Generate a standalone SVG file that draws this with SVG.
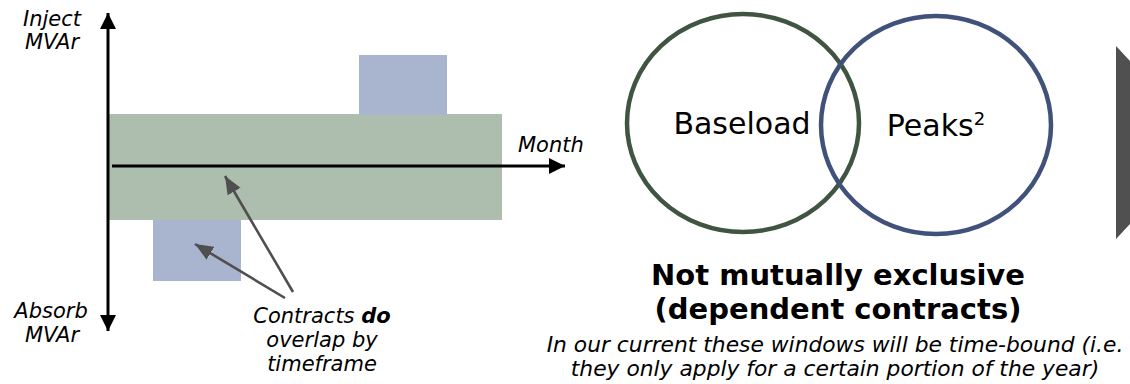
<svg xmlns="http://www.w3.org/2000/svg" width="1130" height="384" viewBox="0 0 1130 384">
<style>
.it{font-family:"DejaVu Sans","Liberation Sans",sans-serif;font-style:italic;font-size:21px;fill:#000}
.it2{font-family:"DejaVu Sans","Liberation Sans",sans-serif;font-style:italic;font-size:21.8px;fill:#000}
.lbl{font-family:"DejaVu Sans","Liberation Sans",sans-serif;font-size:30px;fill:#000}
.hd{font-family:"DejaVu Sans","Liberation Sans",sans-serif;font-weight:bold;font-size:29px;fill:#000}
.axis{stroke:#000;stroke-width:3;fill:none}
.ptr{stroke:#4f4f4f;stroke-width:2.6;fill:none}
</style>
<defs>
<marker id="ah" markerUnits="userSpaceOnUse" markerWidth="18" markerHeight="18" refX="16" refY="8" orient="auto-start-reverse">
<path d="M0,0 L16,8 L0,16 Z" fill="#000"/>
</marker>
<marker id="ph" markerUnits="userSpaceOnUse" markerWidth="20" markerHeight="16" refX="18" refY="7.5" orient="auto">
<path d="M0,0 L18,7.5 L0,15 Z" fill="#4f4f4f"/>
</marker>
</defs>
<rect width="1130" height="384" fill="#fff"/>
<g id="chart">
<rect id="baseload-bar" x="109" y="114" width="393" height="106" fill="#adbeaf"/>
<rect id="peak-up" x="359" y="55" width="88" height="60" fill="#a9b5cf"/>
<rect id="peak-down" x="153" y="220" width="88" height="61" fill="#a9b5cf"/>
</g>
<g id="connectors">
<line class="axis" x1="108" y1="13" x2="108" y2="331" marker-start="url(#ah)" marker-end="url(#ah)"/>
<line class="axis" x1="112" y1="166" x2="565" y2="166" marker-end="url(#ah)"/>
<line class="ptr" x1="293" y1="292" x2="225" y2="176" marker-end="url(#ph)"/>
<line class="ptr" x1="285" y1="298" x2="195" y2="244" marker-end="url(#ph)"/>
</g>
<g id="axis-labels">
<text class="it" x="52" y="26" text-anchor="middle">Inject</text>
<text class="it" x="52" y="49" text-anchor="middle">MVAr</text>
<text class="it" x="51" y="318" text-anchor="middle">Absorb</text>
<text class="it" x="52" y="342" text-anchor="middle">MVAr</text>
<text class="it" x="518" y="152">Month</text>
</g>
<g id="note">
<text class="it" x="322" y="323" text-anchor="middle">Contracts <tspan font-weight="bold">do</tspan></text>
<text class="it" x="322" y="347" text-anchor="middle">overlap by</text>
<text class="it" x="322" y="371" text-anchor="middle">timeframe</text>
</g>
<g id="baseload">
<ellipse cx="743" cy="123" rx="116" ry="109" fill="none" stroke="#3f5441" stroke-width="4.5"/>
<text class="lbl" x="742" y="134" text-anchor="middle">Baseload</text>
</g>
<g id="peaks">
<ellipse cx="936" cy="125" rx="115" ry="109" fill="none" stroke="#41527a" stroke-width="4.5"/>
<text class="lbl" x="936" y="136" text-anchor="middle">Peaks<tspan font-size="18" dy="-11">2</tspan></text>
</g>
<g id="summary">
<text class="hd" x="838" y="285" text-anchor="middle">Not mutually exclusive</text>
<text class="hd" x="838" y="319" text-anchor="middle">(dependent contracts)</text>
<text class="it2" x="835" y="352" text-anchor="middle">In our current these windows will be time-bound (i.e.</text>
<text class="it2" x="835" y="376" text-anchor="middle">they only apply for a certain portion of the year)</text>
</g>
<g id="chevron">
<polygon points="1116,46 1130,61 1130,224 1116,239" fill="#505050"/>
</g>
</svg>
